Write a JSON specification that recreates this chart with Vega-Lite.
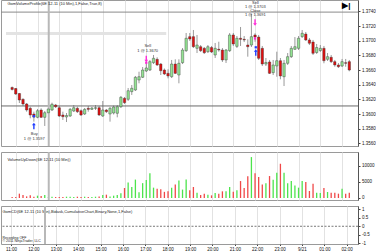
{
  "$schema": "https://vega.github.io/schema/vega-lite/v6.json",
  "padding": {"left": 0, "top": -2, "right": 0, "bottom": 0},
  "spacing": 2,
  "background": "white",
  "config": {
    "view": {"stroke": "#9a9a9a"},
    "axis": {"labelFont": "Liberation Sans", "labelFontSize": 4.5, "labelColor": "#111", "tickColor": "#444", "domainColor": "#555", "tickSize": 2, "labelPadding": 1.5, "title": null, "grid": false, "labelOverlap": false, "tickCount": 100},
    "text": {"font": "Liberation Sans", "fontSize": 4, "color": "#222"}
  },
  "datasets": {
    "one": [{"k": 1}],
    "bars": [
      {"m":650,"o":1.36362,"h":1.36375,"l":1.36321,"c":1.36335,"v":300},
      {"m":660,"o":1.36348,"h":1.36355,"l":1.36260,"c":1.36273,"v":300},
      {"m":670,"o":1.36280,"h":1.36287,"l":1.36150,"c":1.36191,"v":1340},
      {"m":680,"o":1.36201,"h":1.36214,"l":1.36110,"c":1.36137,"v":930},
      {"m":690,"o":1.36137,"h":1.36150,"l":1.36032,"c":1.36055,"v":500},
      {"m":700,"o":1.36078,"h":1.36100,"l":1.35942,"c":1.35987,"v":820},
      {"m":710,"o":1.36000,"h":1.36032,"l":1.35896,"c":1.35959,"v":400},
      {"m":720,"o":1.35955,"h":1.36069,"l":1.35942,"c":1.36045,"v":720},
      {"m":730,"o":1.36055,"h":1.36078,"l":1.35946,"c":1.35955,"v":620},
      {"m":740,"o":1.35955,"h":1.36041,"l":1.35837,"c":1.36018,"v":930},
      {"m":750,"o":1.36018,"h":1.36086,"l":1.36000,"c":1.36069,"v":300},
      {"m":760,"o":1.36055,"h":1.36155,"l":1.36041,"c":1.36133,"v":400},
      {"m":770,"o":1.36123,"h":1.36137,"l":1.36082,"c":1.36100,"v":300},
      {"m":780,"o":1.36086,"h":1.36110,"l":1.35960,"c":1.35973,"v":300},
      {"m":790,"o":1.35987,"h":1.36032,"l":1.35919,"c":1.35964,"v":300},
      {"m":800,"o":1.35960,"h":1.36014,"l":1.35891,"c":1.35980,"v":400},
      {"m":810,"o":1.35973,"h":1.36082,"l":1.35960,"c":1.36064,"v":400},
      {"m":820,"o":1.36041,"h":1.36123,"l":1.36028,"c":1.36086,"v":300},
      {"m":830,"o":1.36078,"h":1.36100,"l":1.36014,"c":1.36032,"v":400},
      {"m":840,"o":1.36045,"h":1.36062,"l":1.35973,"c":1.35987,"v":300},
      {"m":850,"o":1.36000,"h":1.36082,"l":1.35987,"c":1.36064,"v":400},
      {"m":860,"o":1.36078,"h":1.36110,"l":1.36032,"c":1.36064,"v":300},
      {"m":870,"o":1.36064,"h":1.36096,"l":1.36055,"c":1.36082,"v":300},
      {"m":880,"o":1.36078,"h":1.36123,"l":1.36055,"c":1.36086,"v":400},
      {"m":890,"o":1.36086,"h":1.36110,"l":1.35973,"c":1.35987,"v":500},
      {"m":900,"o":1.35973,"h":1.36178,"l":1.35960,"c":1.36055,"v":930},
      {"m":910,"o":1.36055,"h":1.36069,"l":1.36014,"c":1.36032,"v":1030},
      {"m":920,"o":1.36000,"h":1.36096,"l":1.35896,"c":1.36078,"v":500},
      {"m":930,"o":1.36014,"h":1.36116,"l":1.35994,"c":1.36096,"v":720},
      {"m":940,"o":1.36010,"h":1.36123,"l":1.35955,"c":1.36100,"v":930},
      {"m":950,"o":1.36100,"h":1.36246,"l":1.36082,"c":1.36228,"v":1500},
      {"m":960,"o":1.36214,"h":1.36232,"l":1.36137,"c":1.36155,"v":3100},
      {"m":970,"o":1.36201,"h":1.36355,"l":1.36178,"c":1.36318,"v":4800},
      {"m":980,"o":1.36305,"h":1.36396,"l":1.36260,"c":1.36351,"v":3400},
      {"m":990,"o":1.36328,"h":1.36519,"l":1.36314,"c":1.36501,"v":5700},
      {"m":1000,"o":1.36464,"h":1.36577,"l":1.36419,"c":1.36509,"v":1800},
      {"m":1010,"o":1.36501,"h":1.36641,"l":1.36491,"c":1.36600,"v":4600},
      {"m":1020,"o":1.36587,"h":1.36710,"l":1.36573,"c":1.36628,"v":5600},
      {"m":1030,"o":1.36600,"h":1.36737,"l":1.36587,"c":1.36714,"v":7700},
      {"m":1040,"o":1.36700,"h":1.36805,"l":1.36682,"c":1.36760,"v":3200},
      {"m":1050,"o":1.36746,"h":1.36774,"l":1.36655,"c":1.36669,"v":2900},
      {"m":1060,"o":1.36682,"h":1.36696,"l":1.36532,"c":1.36591,"v":2700},
      {"m":1070,"o":1.36600,"h":1.36621,"l":1.36532,"c":1.36546,"v":1900},
      {"m":1080,"o":1.36555,"h":1.36610,"l":1.36487,"c":1.36519,"v":2100},
      {"m":1090,"o":1.36509,"h":1.36737,"l":1.36491,"c":1.36682,"v":3200},
      {"m":1100,"o":1.36682,"h":1.36746,"l":1.36546,"c":1.36555,"v":4200},
      {"m":1110,"o":1.36532,"h":1.36746,"l":1.36419,"c":1.36692,"v":5400},
      {"m":1120,"o":1.36700,"h":1.36900,"l":1.36682,"c":1.36873,"v":2600},
      {"m":1130,"o":1.36864,"h":1.37105,"l":1.36846,"c":1.37033,"v":5700},
      {"m":1140,"o":1.37055,"h":1.37105,"l":1.36996,"c":1.37023,"v":2370},
      {"m":1150,"o":1.37055,"h":1.37146,"l":1.36900,"c":1.36918,"v":3400},
      {"m":1160,"o":1.36896,"h":1.37078,"l":1.36832,"c":1.36941,"v":1650},
      {"m":1170,"o":1.36918,"h":1.36941,"l":1.36846,"c":1.36864,"v":930},
      {"m":1180,"o":1.36896,"h":1.36914,"l":1.36819,"c":1.36836,"v":1340},
      {"m":1190,"o":1.36850,"h":1.36941,"l":1.36832,"c":1.36918,"v":1030},
      {"m":1200,"o":1.36907,"h":1.36928,"l":1.36832,"c":1.36846,"v":820},
      {"m":1210,"o":1.36805,"h":1.36969,"l":1.36764,"c":1.36896,"v":1550},
      {"m":1220,"o":1.36883,"h":1.36986,"l":1.36850,"c":1.36873,"v":1340},
      {"m":1230,"o":1.36873,"h":1.36900,"l":1.36710,"c":1.36737,"v":2060},
      {"m":1240,"o":1.36737,"h":1.36887,"l":1.36696,"c":1.36873,"v":2060},
      {"m":1250,"o":1.36864,"h":1.37105,"l":1.36846,"c":1.37078,"v":3400},
      {"m":1260,"o":1.37078,"h":1.37105,"l":1.36928,"c":1.36955,"v":1960},
      {"m":1270,"o":1.36923,"h":1.37064,"l":1.36900,"c":1.37033,"v":2370},
      {"m":1280,"o":1.37033,"h":1.37187,"l":1.36928,"c":1.37019,"v":5250},
      {"m":1290,"o":1.37019,"h":1.37064,"l":1.36982,"c":1.37010,"v":3090},
      {"m":1300,"o":1.36941,"h":1.37019,"l":1.36782,"c":1.36918,"v":6700},
      {"m":1310,"o":1.36941,"h":1.37364,"l":1.36914,"c":1.37055,"v":12670},
      {"m":1320,"o":1.37078,"h":1.37101,"l":1.36986,"c":1.37050,"v":7700},
      {"m":1330,"o":1.37050,"h":1.37078,"l":1.36737,"c":1.36760,"v":6500},
      {"m":1340,"o":1.36896,"h":1.36928,"l":1.36655,"c":1.36682,"v":4200},
      {"m":1350,"o":1.36682,"h":1.36764,"l":1.36655,"c":1.36703,"v":4600},
      {"m":1360,"o":1.36710,"h":1.36737,"l":1.36546,"c":1.36555,"v":6800},
      {"m":1370,"o":1.36564,"h":1.36737,"l":1.36532,"c":1.36669,"v":5650},
      {"m":1380,"o":1.36655,"h":1.36850,"l":1.36509,"c":1.36727,"v":7800},
      {"m":1390,"o":1.36727,"h":1.36764,"l":1.36474,"c":1.36519,"v":10600},
      {"m":1400,"o":1.36509,"h":1.36737,"l":1.36382,"c":1.36692,"v":7800},
      {"m":1410,"o":1.36692,"h":1.36832,"l":1.36669,"c":1.36782,"v":4600},
      {"m":1420,"o":1.36782,"h":1.36928,"l":1.36764,"c":1.36896,"v":5250},
      {"m":1430,"o":1.36883,"h":1.37050,"l":1.36873,"c":1.36918,"v":3900},
      {"m":1440,"o":1.36896,"h":1.37064,"l":1.36873,"c":1.37033,"v":3200},
      {"m":1450,"o":1.37055,"h":1.37146,"l":1.37037,"c":1.37101,"v":5250},
      {"m":1460,"o":1.37091,"h":1.37119,"l":1.36996,"c":1.37010,"v":4950},
      {"m":1470,"o":1.37010,"h":1.37037,"l":1.36941,"c":1.36965,"v":2160},
      {"m":1480,"o":1.36982,"h":1.37010,"l":1.36805,"c":1.36828,"v":4430},
      {"m":1490,"o":1.36839,"h":1.36955,"l":1.36819,"c":1.36907,"v":1650},
      {"m":1500,"o":1.36866,"h":1.36941,"l":1.36846,"c":1.36896,"v":1550},
      {"m":1510,"o":1.36896,"h":1.36928,"l":1.36692,"c":1.36727,"v":3090},
      {"m":1520,"o":1.36746,"h":1.36832,"l":1.36723,"c":1.36782,"v":1850},
      {"m":1530,"o":1.36774,"h":1.36805,"l":1.36696,"c":1.36714,"v":1650},
      {"m":1540,"o":1.36714,"h":1.36737,"l":1.36645,"c":1.36669,"v":1650},
      {"m":1550,"o":1.36669,"h":1.36696,"l":1.36628,"c":1.36645,"v":1340},
      {"m":1560,"o":1.36655,"h":1.36751,"l":1.36641,"c":1.36714,"v":2880},
      {"m":1570,"o":1.36700,"h":1.36751,"l":1.36645,"c":1.36692,"v":1340},
      {"m":1580,"o":1.36714,"h":1.36737,"l":1.36583,"c":1.36600,"v":1650}
    ],
    "ann": [
      {"m":711,"p":1.35721,"t":"Buy"},
      {"m":711,"p":1.35660,"t":"1 @ 1.3597"},
      {"m":1024,"p":1.36928,"t":"Sell"},
      {"m":1024,"p":1.36866,"t":"1 @ 1.3670"},
      {"m":1321,"p":1.37515,"t":"Sell"},
      {"m":1321,"p":1.37462,"t":"1 @ 1.3703"},
      {"m":1321,"p":1.37408,"t":"Close"},
      {"m":1321,"p":1.37350,"t":"1 @ 1.3691"}
    ],
    "arrows": [
      {"m":710,"p":1.35837,"side":"Buy"},
      {"m":1020,"p":1.36750,"side":"Sell"},
      {"m":1320,"p":1.37248,"side":"Sell"},
      {"m":1322,"p":1.36839,"side":"Buy"}
    ],
    "fills": [
      {"m":710,"p":1.3597,"side":"Buy"},
      {"m":1020,"p":1.3670,"side":"Sell"},
      {"m":1320,"p":1.3703,"side":"Sell"},
      {"m":1322,"p":1.3691,"side":"Buy"}
    ]
  },
  "vconcat": [
    {
      "width": 357,
      "height": 146,
      "layer": [
        {
          "data": {"name": "bars"},
          "mark": {"type": "rule", "color": "#555", "strokeWidth": 0.6},
          "encoding": {
            "x": {"field": "m", "type": "quantitative", "scale": {"domain": [633.1, 1590.2], "nice": false, "zero": false},
              "axis": {"values": [660,720,780,840,900,960,1020,1080,1140,1200,1260,1320,1380,1440,1500,1560], "tickCount": 100, "labels": false, "ticks": false, "domain": false, "grid": true, "gridColor": "#e2e2e2", "gridWidth": 1}},
            "y": {"field": "l", "type": "quantitative", "scale": {"domain": [1.35564, 1.37555], "nice": false, "zero": false},
              "axis": {"orient": "right", "values": [1.356,1.358,1.36,1.362,1.364,1.366,1.368,1.37,1.372,1.374], "tickCount": 100, "format": ".4f", "labelOverlap": false}},
            "y2": {"field": "h"}
          }
        },
        {
          "data": {"name": "one"},
          "mark": {"type": "rule", "color": "#e3e3e3", "strokeWidth": 3},
          "encoding": {"x": {"datum": 633.1}, "x2": {"datum": 1075}, "y": {"datum": 1.37098}}
        },
        {
          "data": {"name": "one"},
          "mark": {"type": "rule", "color": "#8a8a8a", "strokeWidth": 1},
          "encoding": {"y": {"datum": 1.3739}}
        },
        {
          "data": {"name": "one"},
          "mark": {"type": "rule", "color": "#6a6a6a", "strokeWidth": 1},
          "encoding": {"y": {"datum": 1.3611}}
        },
        {
          "data": {"name": "one"},
          "mark": {"type": "rule", "color": "#b8b8b8", "strokeWidth": 2},
          "encoding": {"x": {"datum": 751}}
        },
        {
          "data": {"name": "bars"},
          "mark": {"type": "bar", "size": 2.4, "stroke": "#333", "strokeWidth": 0.4},
          "encoding": {
            "x": {"field": "m", "type": "quantitative"},
            "y": {"field": "o", "type": "quantitative"},
            "y2": {"field": "c"},
            "fill": {"condition": {"test": "datum.c >= datum.o", "value": "#92e492"}, "value": "#e01010"}
          }
        },
        {
          "data": {"name": "arrows"},
          "mark": {"type": "point", "filled": true, "size": 40, "opacity": 1},
          "encoding": {
            "x": {"field": "m", "type": "quantitative"},
            "y": {"field": "p", "type": "quantitative"},
            "shape": {"field": "side", "type": "nominal", "scale": {"domain": ["Buy", "Sell"], "range": ["M0,-1 L0.6,-0.2 L0.22,-0.2 L0.22,1 L-0.22,1 L-0.22,-0.2 L-0.6,-0.2 Z", "M0,1 L0.6,0.2 L0.22,0.2 L0.22,-1 L-0.22,-1 L-0.22,0.2 L-0.6,0.2 Z"]}, "legend": null},
            "color": {"field": "side", "type": "nominal", "scale": {"domain": ["Buy", "Sell"], "range": ["#1f3cff", "#ff2ad8"]}, "legend": null}
          }
        },
        {
          "data": {"name": "fills"},
          "mark": {"type": "square", "filled": true, "size": 5, "opacity": 1},
          "encoding": {
            "x": {"field": "m", "type": "quantitative"},
            "y": {"field": "p", "type": "quantitative"},
            "color": {"field": "side", "type": "nominal", "legend": null}
          }
        },
        {
          "data": {"name": "ann"},
          "mark": {"type": "text", "align": "center", "baseline": "middle", "color": "#333"},
          "encoding": {
            "x": {"field": "m", "type": "quantitative"},
            "y": {"field": "p", "type": "quantitative"},
            "text": {"field": "t"}
          }
        },
        {
          "data": {"name": "one"},
          "mark": {"type": "text", "align": "left", "baseline": "middle", "text": "GomVolumeProfile(6E 12-11 (10 Min),1,False,True,8)"},
          "encoding": {"x": {"datum": 637}, "y": {"datum": 1.37496}}
        },
        {
          "data": {"name": "one"},
          "mark": {"type": "text", "align": "center", "baseline": "middle", "text": "▶|", "fontSize": 8, "fontWeight": "bold", "color": "#000"},
          "encoding": {"x": {"datum": 1572}, "y": {"datum": 1.37473}}
        }
      ]
    },
    {
      "width": 357,
      "height": 48,
      "layer": [
        {
          "data": {"name": "bars"},
          "mark": {"type": "bar", "size": 1.3},
          "encoding": {
            "x": {"field": "m", "type": "quantitative", "scale": {"domain": [633.1, 1590.2], "nice": false, "zero": false},
              "axis": {"values": [660,720,780,840,900,960,1020,1080,1140,1200,1260,1320,1380,1440,1500,1560], "tickCount": 100, "labels": false, "ticks": false, "domain": false, "grid": true, "gridColor": "#e2e2e2", "gridWidth": 1}},
            "y": {"field": "v", "type": "quantitative", "scale": {"domain": [-620, 14240], "nice": false},
              "axis": {"orient": "right", "values": [0, 5000, 10000], "tickCount": 100, "format": "d", "labelOverlap": false}},
            "color": {"condition": {"test": "datum.c >= datum.o", "value": "#4ce44c"}, "value": "#f04848"}
          }
        },
        {
          "data": {"name": "one"},
          "mark": {"type": "rule", "color": "#b8b8b8", "strokeWidth": 2},
          "encoding": {"x": {"datum": 751}}
        },
        {
          "data": {"name": "one"},
          "mark": {"type": "text", "align": "left", "baseline": "middle", "text": "VolumeUpDown(6E 12-11 (10 Min))"},
          "encoding": {"x": {"datum": 637}, "y": {"datum": 11900}}
        }
      ]
    },
    {
      "width": 357,
      "height": 38,
      "layer": [
        {
          "data": {"values": [
            {"m": 637, "y": 0.86, "t": "GomCD(6E 12-11 (10 Min),Bidask,CumulativeChart,Binary,None,1,False)"}
          ]},
          "mark": {"type": "text", "align": "left", "baseline": "middle"},
          "encoding": {
            "x": {"field": "m", "type": "quantitative", "scale": {"domain": [633.1, 1590.2], "nice": false, "zero": false},
              "axis": {"values": [660,720,780,840,900,960,1020,1080,1140,1200,1260,1320,1380,1440,1500,1560], "tickCount": 100, "grid": true, "gridColor": "#e2e2e2", "gridWidth": 1, "domain": false, "tickSize": 1.5, "labelPadding": 0.5, "labelOverlap": false,
                "labelExpr": "datum.value == 1440 ? '9/21' : ((floor(datum.value/60) % 24) < 10 ? '0' : '') + (floor(datum.value/60) % 24) + ':00'"}},
            "y": {"field": "y", "type": "quantitative", "scale": {"domain": [-1.05, 1.2], "nice": false},
              "axis": {"orient": "right", "values": [-1, -0.5, 0, 0.5, 1], "tickCount": 100, "labelOverlap": false, "labelExpr": "'' + datum.value"}},
            "text": {"field": "t"}
          }
        },
        {
          "data": {"values": [
            {"m": 637, "y": -0.70, "t": "Recording OFF"},
            {"m": 637, "y": -0.90, "t": "© 2011 NinjaTrader, LLC"}
          ]},
          "mark": {"type": "text", "align": "left", "baseline": "middle", "fontSize": 3.5},
          "encoding": {
            "x": {"field": "m", "type": "quantitative"},
            "y": {"field": "y", "type": "quantitative"},
            "text": {"field": "t"}
          }
        },
        {
          "data": {"name": "one"},
          "mark": {"type": "rule", "color": "#555", "strokeWidth": 0.8, "strokeDash": [2, 1.5]},
          "encoding": {"y": {"datum": 0}}
        },
        {
          "data": {"name": "one"},
          "mark": {"type": "rule", "color": "#b8b8b8", "strokeWidth": 2},
          "encoding": {"x": {"datum": 751}}
        }
      ]
    }
  ]
}
